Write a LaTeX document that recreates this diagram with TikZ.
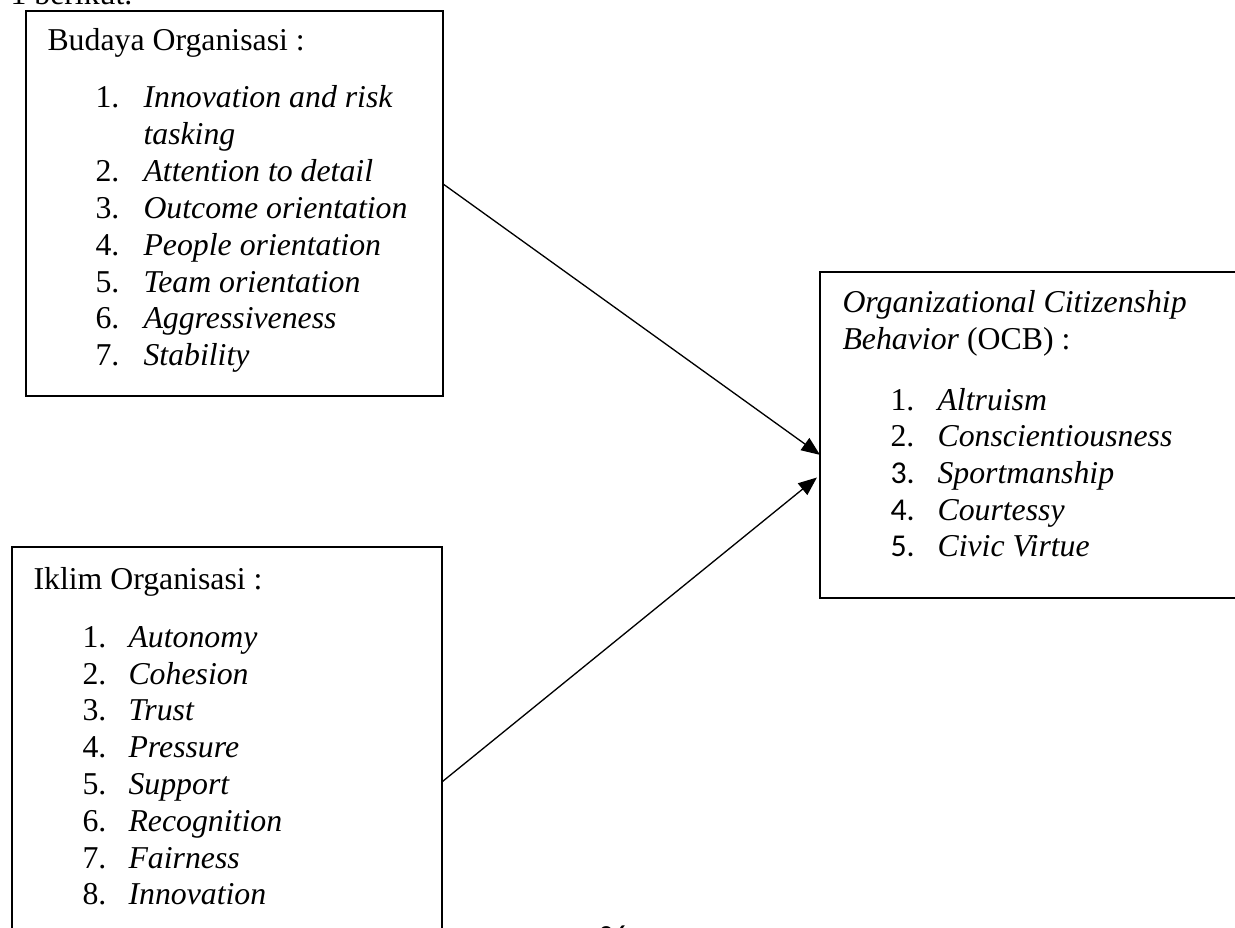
\documentclass[tikz,border=0pt]{standalone}
\usepackage{fontspec}
\setmainfont{Liberation Serif}
\newfontfamily\calib{Carlito}
\usetikzlibrary{arrows.meta}
\tikzset{
  bx/.style 2 args={draw, line width=0.8pt, minimum width=#1*0.3775pt, minimum height=#2*0.3775pt, anchor=north west, inner sep=0pt, outer sep=0pt},
  txt/.style={anchor=base west, inner sep=0pt, font=\fontsize{12pt}{13.9pt}\selectfont},
  link/.style={line width=0.5pt, -{Triangle[length=7pt,width=5.6pt]}}
}
\begin{document}
\begin{tikzpicture}[x=0.3775pt, y=-0.3775pt]
\useasboundingbox (0,0) rectangle (1235,928);
\clip (0,0) rectangle (1235,928);
% cut-off text of the page
\node[txt] (top) at (10,5) {1 berikut.};
\node[anchor=base west, inner sep=0pt, font=\calib\fontsize{11pt}{13pt}\selectfont] (pg) at (598,945) {26};
% boxes
\node[bx={417}{385}] (b1) at (26,11) {};
\node[bx={430}{420}] (b2) at (12,547) {};
\node[bx={430}{326}] (b3) at (820,272) {};
% Budaya Organisasi
\node[txt] (t1) at (47,51) {Budaya Organisasi :};
\node[txt] (n11) at (95,108) {1.};
\node[txt] (i11) at (143,108) {\textit{Innovation and risk}};
\node[txt] (i11b) at (143,145) {\textit{tasking}};
\node[txt] (n12) at (95,182) {2.};
\node[txt] (i12) at (143,182) {\textit{Attention to detail}};
\node[txt] (n13) at (95,219) {3.};
\node[txt] (i13) at (143,219) {\textit{Outcome orientation}};
\node[txt] (n14) at (95,256) {4.};
\node[txt] (i14) at (143,256) {\textit{People orientation}};
\node[txt] (n15) at (95,293) {5.};
\node[txt] (i15) at (143,293) {\textit{Team orientation}};
\node[txt] (n16) at (95,329) {6.};
\node[txt] (i16) at (143,329) {\textit{Aggressiveness}};
\node[txt] (n17) at (95,366) {7.};
\node[txt] (i17) at (143,366) {\textit{Stability}};
% Iklim Organisasi
\node[txt] (t2) at (33,589) {Iklim Organisasi :};
\node[txt] (n21) at (82,647) {1.};
\node[txt] (i21) at (128,647) {\textit{Autonomy}};
\node[txt] (n22) at (82,684) {2.};
\node[txt] (i22) at (128,684) {\textit{Cohesion}};
\node[txt] (n23) at (82,720) {3.};
\node[txt] (i23) at (128,720) {\textit{Trust}};
\node[txt] (n24) at (82,757) {4.};
\node[txt] (i24) at (128,757) {\textit{Pressure}};
\node[txt] (n25) at (82,794) {5.};
\node[txt] (i25) at (128,794) {\textit{Support}};
\node[txt] (n26) at (82,831) {6.};
\node[txt] (i26) at (128,831) {\textit{Recognition}};
\node[txt] (n27) at (82,868) {7.};
\node[txt] (i27) at (128,868) {\textit{Fairness}};
\node[txt] (n28) at (82,904) {8.};
\node[txt] (i28) at (128,904) {\textit{Innovation}};
% OCB
\node[txt] (t3a) at (842,313) {\textit{Organizational Citizenship}};
\node[txt] (t3b) at (842,350) {\textit{Behavior} (OCB) :};
\node[txt] (n31) at (890,410) {1.};
\node[txt] (i31) at (937,410) {\textit{Altruism}};
\node[txt] (n32) at (890,446) {2.};
\node[txt] (i32) at (937,446) {\textit{Conscientiousness}};
\node[txt, font=\calib\fontsize{12pt}{13.9pt}\selectfont] (n33) at (890,483) {3.};
\node[txt] (i33) at (937,483) {\textit{Sportmanship}};
\node[txt, font=\calib\fontsize{12pt}{13.9pt}\selectfont] (n34) at (890,520) {4.};
\node[txt] (i34) at (937,520) {\textit{Courtessy}};
\node[txt, font=\calib\fontsize{12pt}{13.9pt}\selectfont] (n35) at (890,556) {5.};
\node[txt] (i35) at (937,556) {\textit{Civic Virtue}};
% connectors
\draw[link] ([yshift=7.4pt]b1.east) -- ([yshift=-7.5pt]b3.west);
\draw[link, shorten >=1.5pt] ([yshift=-9.4pt]b2.east) -- ([yshift=-15.1pt]b3.west);
\end{tikzpicture}
\end{document}
